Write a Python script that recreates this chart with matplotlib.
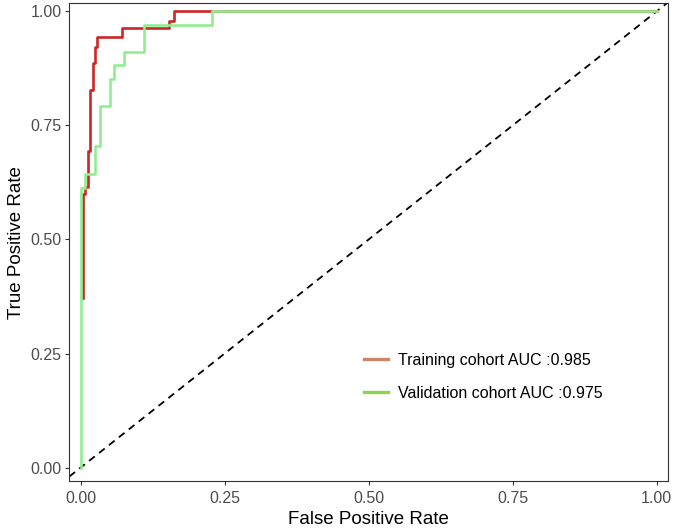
import matplotlib
matplotlib.use('Agg')
import matplotlib.pyplot as plt
from matplotlib.lines import Line2D

# ROC step corners (fpr, tpr)
train_fpr = [0.004, 0.004, 0.0075, 0.0125, 0.0165, 0.021, 0.025, 0.029, 0.071, 0.154, 0.162, 1.0]
train_tpr = [0.372, 0.600, 0.616, 0.695, 0.828, 0.888, 0.923, 0.945, 0.963, 0.980, 1.0, 1.0]

valid_fpr = [0.0, 0.0, 0.0075, 0.025, 0.0335, 0.051, 0.058, 0.075, 0.110, 0.2285, 1.0]
valid_tpr = [0.0, 0.613, 0.643, 0.704, 0.792, 0.853, 0.882, 0.911, 0.971, 1.0, 1.0]

labels = ['Training cohort AUC :0.985', 'Validation cohort AUC :0.975']
ticks = [0.0, 0.25, 0.5, 0.75, 1.0]
tick_labels = ['0.00', '0.25', '0.50', '0.75', '1.00']

plt.rcParams['font.family'] = ['Liberation Sans', 'DejaVu Sans']

fig = plt.figure(figsize=(6.75, 5.28), dpi=100)
ax = fig.add_axes([0.1027, 0.0890, 0.8874, 0.9048])

ax.axline((0, 0), (1, 1), color='black', lw=1.3, dashes=(4, 3), zorder=1)
ax.step(train_fpr, train_tpr, where='post', color='#CD2626', lw=1.9, zorder=2)
ax.step(valid_fpr, valid_tpr, where='post', color='#90EE90', lw=1.9, zorder=3)

ax.set_xlim(-0.0198, 1.0205)
ax.set_ylim(-0.0296, 1.018)
ax.set_xticks(ticks)
ax.set_xticklabels(tick_labels)
ax.set_yticks(ticks)
ax.set_yticklabels(tick_labels)
ax.tick_params(length=3, width=0.8, color='#333333', labelcolor='#4D4D4D',
               labelsize=11.5)
ax.tick_params(axis='x', pad=4)
ax.tick_params(axis='y', pad=2.5)
for s in ax.spines.values():
    s.set_color('#333333')
    s.set_linewidth(0.8)

ax.set_xlabel('False Positive Rate', fontsize=13.5, labelpad=4)
ax.set_ylabel('True Positive Rate', fontsize=13.5, labelpad=4)

handles = [Line2D([], [], color='#C9876A', lw=2.4),
           Line2D([], [], color='#8CD44F', lw=2.4)]
ax.legend(handles, labels, loc='center left', bbox_to_anchor=(0.4686, 0.218),
          frameon=False, fontsize=11.5, handlelength=1.45, handletextpad=0.65,
          labelspacing=1.1)

fig.savefig('out.png', dpi=100)
